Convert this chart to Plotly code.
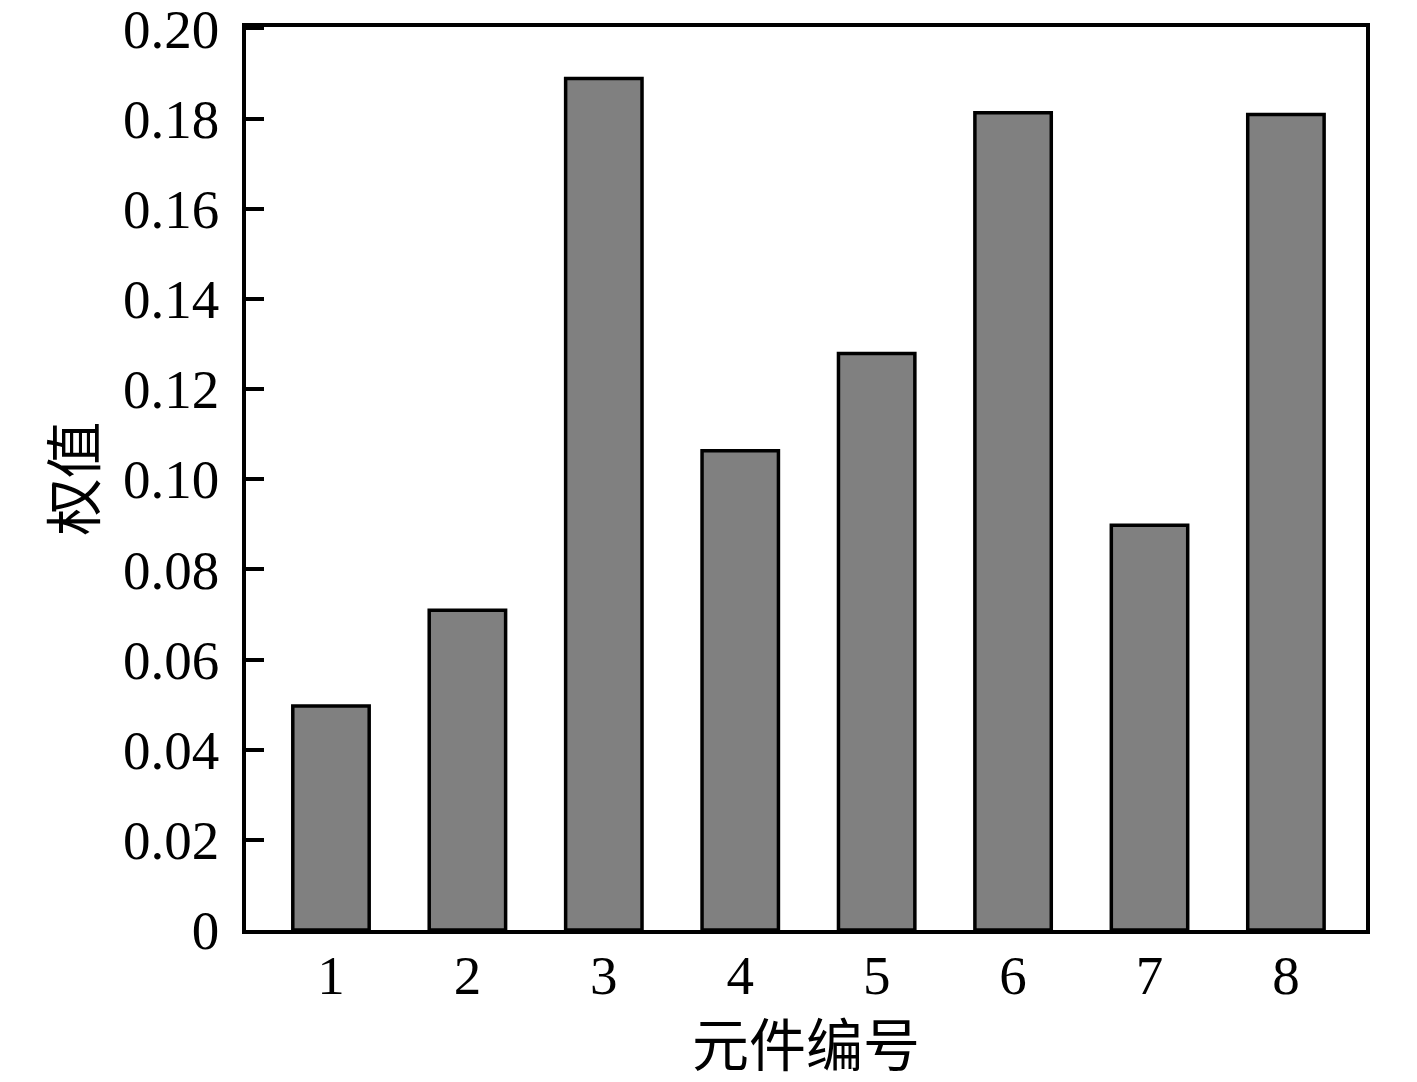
import plotly.graph_objects as go

components = [1, 2, 3, 4, 5, 6, 7, 8]
weights = [0.0497, 0.0709, 0.1889, 0.1063, 0.1279, 0.1813, 0.0898, 0.1809]
y_tickvals = [0, 0.02, 0.04, 0.06, 0.08, 0.10, 0.12, 0.14, 0.16, 0.18, 0.20]
y_ticktext = ["0", "0.02", "0.04", "0.06", "0.08", "0.10", "0.12", "0.14", "0.16", "0.18", "0.20"]
x_label = "元件编号"
y_label = "权值"

serif = "Liberation Serif, Times New Roman, serif"
cjk = "Noto Sans CJK SC"

fig = go.Figure()
fig.add_trace(go.Bar(
    x=components, y=weights, width=0.56,
    marker=dict(color="#808080", line=dict(color="black", width=3.5)),
))

fig.update_layout(
    width=1417, height=1082,
    margin=dict(l=246, r=51, t=27, b=152, autoexpand=False),
    plot_bgcolor="white", paper_bgcolor="white",
    showlegend=False,
    font=dict(family=serif, size=55, color="black"),
)
fig.update_xaxes(
    range=[0.377, 8.587], tickvals=components, ticktext=[str(c) for c in components],
    showline=True, linecolor="black", linewidth=3.5, mirror=True,
    ticks="", showgrid=False, zeroline=False, automargin=False,
    tickfont=dict(family=serif, size=55), ticklabelstandoff=-6,
    title=dict(text=x_label, font=dict(family=cjk, size=57), standoff=10),
)
fig.update_yaxes(
    range=[0, 0.2003], tickvals=y_tickvals, ticktext=y_ticktext,
    showline=True, linecolor="black", linewidth=3.5, mirror=True,
    ticks="inside", ticklen=18, tickwidth=3.5, tickcolor="black",
    showgrid=False, zeroline=False, ticklabeloverflow="allow", automargin=False,
    tickfont=dict(family=serif, size=55), ticklabelstandoff=12,
    title=dict(text=y_label, font=dict(family=cjk, size=57), standoff=10),
)

fig.write_html("out.html", config={"displayModeBar": False},
               post_script="document.body.style.margin='0';")
